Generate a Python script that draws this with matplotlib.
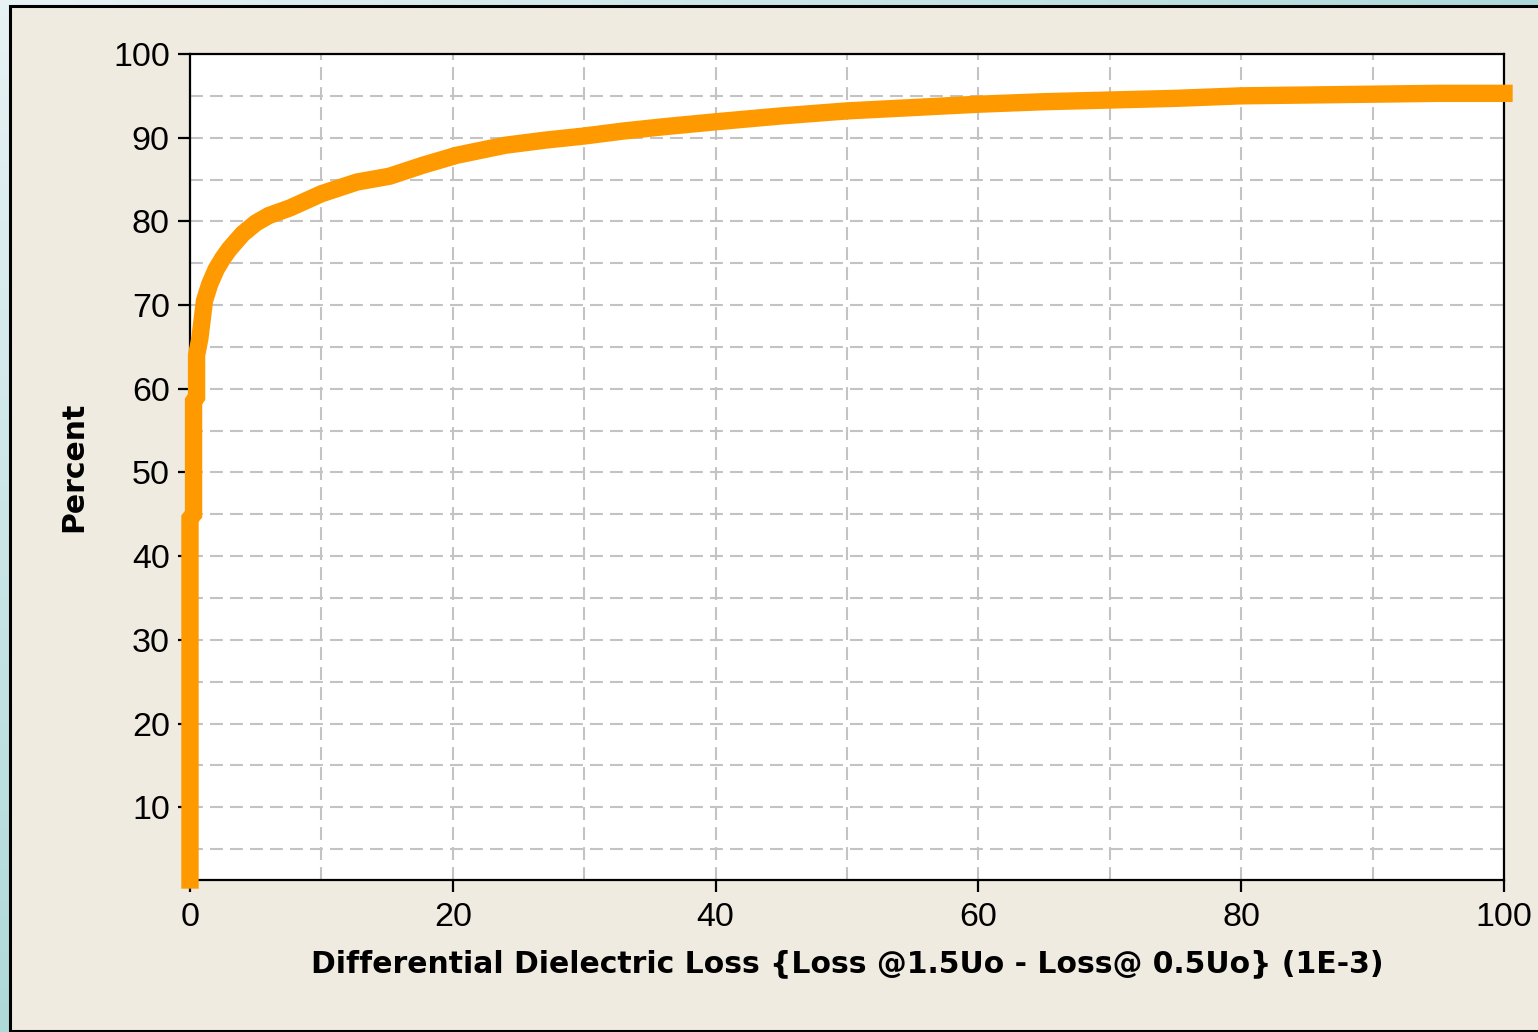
import numpy as np
import matplotlib
matplotlib.use("Agg")
import matplotlib.pyplot as plt
from matplotlib.patches import Rectangle

# ---- data ----
loss_x = [0, 0, 0.27, 0.27, 0.5, 0.5, 0.75, 1.1, 1.5, 2.0, 2.5, 3.0, 4.0, 5.0, 6.0,
          7.6, 10.0, 12.7, 15.2, 17.7, 20.3, 24.0, 27.0, 30.0, 33.0, 36.0, 40.0,
          45.0, 50.0, 55.0, 60.0, 65.0, 70.0, 75.0, 80.0, 85.0, 90.0, 95.0, 100.0]
percent_y = [1.3, 44.5, 45.0, 58.5, 59.0, 64.0, 66.0, 70.5, 72.5, 74.3, 75.6, 76.7, 78.5,
             79.8, 80.7, 81.6, 83.3, 84.7, 85.4, 86.7, 87.9, 89.1, 89.7, 90.2, 90.8,
             91.3, 91.9, 92.6, 93.2, 93.6, 94.0, 94.3, 94.5, 94.7, 95.0, 95.1, 95.2,
             95.3, 95.3]
x_ticks = [0, 20, 40, 60, 80, 100]
y_ticks = [10, 20, 30, 40, 50, 60, 70, 80, 90, 100]
x_label = "Differential Dielectric Loss {Loss @1.5Uo - Loss@ 0.5Uo} (1E-3)"
y_label = "Percent"

W, H = 1538, 1032
fig = plt.figure(figsize=(W / 100, H / 100), dpi=100)

# background gradient (teal frame)
bg = fig.add_axes([0, 0, 1, 1], zorder=-10)
u = np.linspace(0, 1, 200)[None, :]
v = np.linspace(0, 1, 140)[:, None]
t = np.clip(0.9 * u + 0.9 * v, 0, 1)
light = np.array([0.91, 0.95, 0.96])
teal = np.array([0.66, 0.84, 0.84])
img = light[None, None, :] * (1 - t[..., None]) + teal[None, None, :] * t[..., None]
bg.imshow(img, aspect="auto", extent=[0, 1, 0, 1], origin="upper")
bg.set_xlim(0, 1)
bg.set_ylim(0, 1)
bg.axis("off")

# beige panel
panel = Rectangle((10 / W, 1.5 / H), 1.2, (H - 7.5) / H, transform=fig.transFigure,
                  facecolor="#efebe1", edgecolor="black", linewidth=2.2, zorder=-5)
fig.patches.append(panel)

ax = fig.add_axes([190 / W, (H - 880) / H, (1504 - 190) / W, (880 - 54) / H])
ax.set_facecolor("white")
ax.set_xlim(0, 100)
ax.set_ylim(1.3, 100)

ax.set_xticks(x_ticks)
ax.set_xticks([10, 30, 50, 70, 90], minor=True)
ax.set_yticks(y_ticks)
ax.set_yticks([5, 15, 25, 35, 45, 55, 65, 75, 85, 95], minor=True)

grid_style = dict(color="#c3c3c3", linewidth=1.5, linestyle=(0, (6.2, 3.4)))
ax.grid(True, which="both", **grid_style)
ax.set_axisbelow(True)

tick_font = "Liberation Sans"
ax.tick_params(axis="both", which="major", direction="out", length=8.5, width=1.6,
               color="black", labelsize=24.5, pad=6)
ax.tick_params(axis="x", which="major", pad=7)
ax.tick_params(axis="both", which="minor", length=0)
ax.tick_params(top=False, right=False)
for lab in ax.get_xticklabels() + ax.get_yticklabels():
    lab.set_fontfamily(tick_font)

for s in ax.spines.values():
    s.set_color("black")
    s.set_linewidth(1.6)

ax.plot(loss_x, percent_y, color="#ff9900", linewidth=12.5,
        solid_capstyle="projecting", solid_joinstyle="miter", clip_on=False, zorder=5)

ax.set_xlabel(x_label, fontfamily="DejaVu Sans", fontweight="bold", fontsize=21.5,
              labelpad=12)
ax.set_ylabel(y_label, fontfamily="DejaVu Sans", fontweight="bold", fontsize=21.5,
              labelpad=18)

fig.savefig("out.png", dpi=100)
